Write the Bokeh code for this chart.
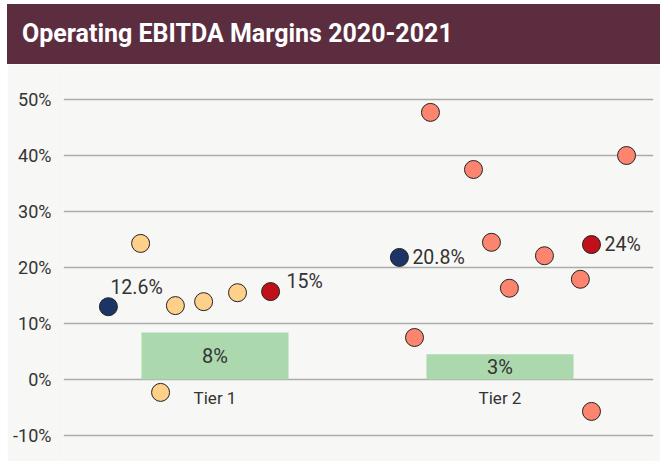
from bokeh.plotting import figure
from bokeh.models import ColumnDataSource, FixedTicker, Div, Range1d
from bokeh.layouts import column
from bokeh.core.properties import value
from bokeh.embed import file_html
from bokeh.resources import INLINE

# ---- data ----
title_text = "Operating EBITDA Margins 2020-2021"
tiers = ["Tier 1", "Tier 2"]
tier_pos = [1, 2]

# green band per tier
band_values = [8.4, 4.5]
band_labels = ["8%", "3%"]

# individual companies
t1_offsets = [-0.374, -0.261, -0.191, -0.139, -0.040, 0.079, 0.195]
t1_values = [13.0, 24.3, -2.3, 13.2, 13.9, 15.5, 15.7]
t1_kind = ["avg", "co", "co", "co", "co", "co", "top"]

t2_offsets = [-0.353, -0.300, -0.244, -0.093, -0.030, 0.033, 0.156, 0.282, 0.321, 0.321, 0.444]
t2_values = [21.8, 7.5, 47.7, 37.5, 24.5, 16.3, 22.1, 17.9, 24.1, -5.7, 40.0]
t2_kind = ["avg", "co", "co", "co", "co", "co", "co", "co", "top", "co", "co"]

# highlighted labels
t1_avg_label, t1_top_label = "12.6%", "15%"
t2_avg_label, t2_top_label = "20.8%", "24%"

y_ticks = [-10, 0, 10, 20, 30, 40, 50]

# ---- styling ----
FONT = "Roboto"
BG = "#f7f7f5"
colors = {
    ("Tier 1", "co"): "#ffd08a",
    ("Tier 2", "co"): "#fd8570",
    ("Tier 1", "avg"): "#1c3566",
    ("Tier 2", "avg"): "#1c3566",
    ("Tier 1", "top"): "#c0101a",
    ("Tier 2", "top"): "#c0101a",
}

xs, ys, cs = [], [], []
lab_x, lab_y, lab_t, lab_xo, lab_yo = [], [], [], [], []
for tier, pos, offs, vals, kinds, avg_l, top_l in [
    ("Tier 1", 1, t1_offsets, t1_values, t1_kind, t1_avg_label, t1_top_label),
    ("Tier 2", 2, t2_offsets, t2_values, t2_kind, t2_avg_label, t2_top_label),
]:
    for o, v, k in zip(offs, vals, kinds):
        xs.append(pos + o)
        ys.append(v)
        cs.append(colors[(tier, k)])
        if k == "avg":
            lab_x.append(pos + o); lab_y.append(v); lab_t.append(avg_l)
            if tier == "Tier 1":
                lab_xo.append(2); lab_yo.append(-19)
            else:
                lab_xo.append(13); lab_yo.append(0)
        elif k == "top":
            lab_x.append(pos + o); lab_y.append(v); lab_t.append(top_l)
            if tier == "Tier 1":
                lab_xo.append(16); lab_yo.append(-10)
            else:
                lab_xo.append(13); lab_yo.append(0)

pts = ColumnDataSource(dict(x=xs, y=ys, c=cs))
labs = ColumnDataSource(dict(x=lab_x, y=lab_y, t=lab_t, xo=lab_xo, yo=lab_yo))
bands = ColumnDataSource(dict(x=tier_pos, top=band_values, mid=[v / 2 for v in band_values],
                              t=band_labels, name=tiers, zero=[0, 0]))

W = 653
TH = 60
FH = 397
p = figure(width=W, height=FH, output_backend="svg", toolbar_location=None,
           x_range=Range1d(0.4684, 2.5386), y_range=Range1d(-14.64, 56.25),
           min_border_left=56, min_border_right=7, min_border_top=0, min_border_bottom=0)
p.background_fill_color = BG
p.border_fill_color = BG
p.outline_line_color = None
p.xaxis.visible = False
p.xgrid.visible = False

p.yaxis.ticker = FixedTicker(ticks=y_ticks)
p.yaxis.major_label_overrides = {t: f"{t}%" for t in y_ticks}
p.yaxis.axis_line_color = None
p.yaxis.major_tick_line_color = None
p.yaxis.minor_tick_line_color = None
p.yaxis.major_label_standoff = 6
p.yaxis.major_label_text_font = FONT
p.yaxis.major_label_text_font_size = "18px"
p.yaxis.major_label_text_color = "#333333"
p.ygrid.ticker = FixedTicker(ticks=y_ticks)
p.ygrid.grid_line_color = "#ababab"
p.ygrid.grid_line_width = 1.6

p.vbar(x="x", top="top", bottom=0, width=0.516, source=bands,
       fill_color="#acd8ae", line_color=None)
p.text(x="x", y="mid", text="t", source=bands, text_align="center", text_baseline="middle",
       text_font=value(FONT), text_font_size="20px", text_color="#333333")
p.text(x="x", y="zero", text="name", source=bands, text_align="center", text_baseline="middle",
       y_offset=18, text_font=value(FONT), text_font_size="17px", text_color="#333333")

p.scatter(x="x", y="y", source=pts, size=18, fill_color="c", line_color="#222222", line_width=1)
p.text(x="x", y="y", text="t", x_offset="xo", y_offset="yo", source=labs,
       text_align="left", text_baseline="middle",
       text_font=value(FONT), text_font_size="19.5px", text_color="#333333")

title = Div(text=(f'<div style="width:{W}px;height:{TH}px;background:#5c2d3f;color:#ffffff;'
                  f'font-family:Roboto;font-weight:bold;font-size:25px;line-height:{TH}px;'
                  f'padding-left:15px;box-sizing:border-box;white-space:nowrap;">{title_text}</div>'),
            width=W, height=TH, margin=0)

layout = column(title, p, spacing=0, margin=(4, 0, 0, 7))
open("out.html", "w").write(file_html(layout, INLINE))
